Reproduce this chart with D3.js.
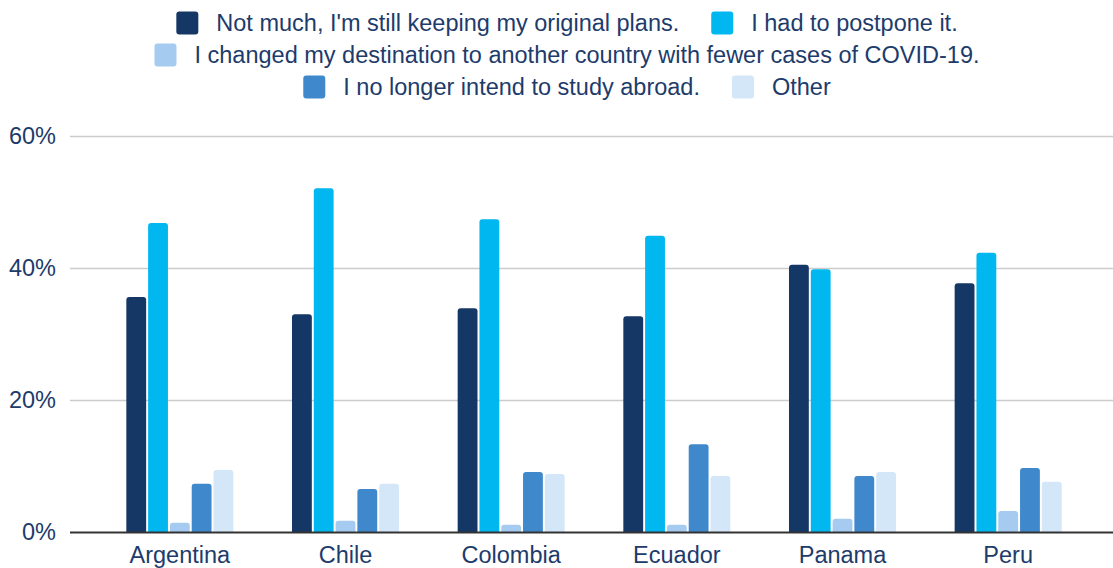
<!DOCTYPE html>
<html><head><meta charset="utf-8">
<script src="https://cdn.jsdelivr.net/npm/d3@7"></script>
<style>
html,body{margin:0;padding:0;background:#fff;}
svg{display:block;font-family:"Liberation Sans",Arial,sans-serif;}
</style></head>
<body>
<svg id="c" width="1113" height="568"></svg>
<script>
const countries = ["Argentina","Chile","Colombia","Ecuador","Panama","Peru"];
const seriesNames = [
  "Not much, I'm still keeping my original plans.",
  "I had to postpone it.",
  "I changed my destination to another country with fewer cases of COVID-19.",
  "I no longer intend to study abroad.",
  "Other"
];
const keepPlans   = [35.6, 33.0, 33.9, 32.7, 40.5, 37.7];
const postponed   = [46.8, 52.1, 47.4, 44.9, 39.8, 42.3];
const changedDest = [1.4, 1.7, 1.1, 1.1, 2.0, 3.2];
const noLonger    = [7.3, 6.5, 9.1, 13.3, 8.5, 9.7];
const other       = [9.4, 7.3, 8.8, 8.5, 9.1, 7.6];
const yTicks = [0, 20, 40, 60];
const colors = ["#153765", "#00b7f0", "#a6cbf0", "#3f88cb", "#d4e7f8"];
const textColor = "#1d3b6b";

const seriesValues = [keepPlans, postponed, changedDest, noLonger, other];

const svg = d3.select("#c");
const plotLeft = 70, plotRight = 1113, y0 = 532, yTop = 136;

const y = d3.scaleLinear().domain([0, 60]).range([y0, yTop]);
const x = d3.scaleBand().domain(countries).range([97, 1091]).paddingInner(0.354).paddingOuter(0.177);
const xi = d3.scaleBand().domain(d3.range(seriesNames.length)).range([0, x.bandwidth()]).paddingInner(0.09);

// gridlines
const yAxis = d3.axisLeft(y).tickValues(yTicks).tickFormat(d => d + "%").tickSize(-(plotRight - plotLeft)).tickPadding(14);
const gy = svg.append("g").attr("transform", `translate(${plotLeft},0)`).call(yAxis);
gy.select(".domain").remove();
gy.selectAll(".tick line").attr("stroke", "#cccccc").attr("stroke-width", 1.3);
gy.selectAll(".tick text").attr("fill", textColor).attr("font-size", 23.5).attr("font-family", "Liberation Sans, Arial, sans-serif");
gy.selectAll(".tick").filter(d => d === 0).select("line").attr("stroke", "none");

// bars
function topRounded(x0, yv, w, h, r) {
  r = Math.min(r, h, w / 2);
  return `M${x0},${yv + h}V${yv + r}Q${x0},${yv} ${x0 + r},${yv}H${x0 + w - r}Q${x0 + w},${yv} ${x0 + w},${yv + r}V${yv + h}Z`;
}
const data = [];
countries.forEach((c, ci) => seriesValues.forEach((arr, si) => data.push({c, si, v: arr[ci]})));
svg.append("g").selectAll("path").data(data).join("path")
  .attr("d", d => {
    const bx = x(d.c) + xi(d.si), by = y(d.v);
    return topRounded(bx, by, xi.bandwidth(), y0 - by, 3);
  })
  .attr("fill", d => colors[d.si]);

// baseline
svg.append("line").attr("x1", plotLeft).attr("x2", plotRight).attr("y1", y0 + 0.5).attr("y2", y0 + 0.5)
  .attr("stroke", "#333").attr("stroke-width", 2);

// x axis labels
const xAxis = d3.axisBottom(x).tickSize(0).tickPadding(13);
const gx = svg.append("g").attr("transform", `translate(0,${y0 + 1})`).call(xAxis);
gx.select(".domain").remove();
gx.selectAll(".tick text").attr("fill", textColor).attr("font-size", 23.5).attr("font-family", "Liberation Sans, Arial, sans-serif");

// legend
const legend = svg.append("g");
const fs = 23.5, sw = 22, sh = 23, gapText = 18, gapItem = 32, maxW = 950;
const rowY = [23, 55, 87];
const items = seriesNames.map((name, i) => {
  const g = legend.append("g");
  g.append("rect").attr("width", sw).attr("height", sh).attr("rx", 3).attr("y", -sh / 2).attr("fill", colors[i]);
  const t = g.append("text").attr("x", sw + gapText).attr("dy", "0.35em").attr("font-size", fs).attr("fill", textColor).text(name);
  return {g, w: sw + gapText + t.node().getComputedTextLength()};
});
const rows = [[]];
let cur = 0;
items.forEach(it => {
  const row = rows[rows.length - 1];
  const add = (row.length ? gapItem : 0) + it.w;
  if (row.length && cur + add > maxW) { rows.push([it]); cur = it.w; }
  else { row.push(it); cur += add; }
});
rows.forEach((row, ri) => {
  const tw = d3.sum(row, d => d.w) + gapItem * (row.length - 1);
  let xx = 567 - tw / 2;
  row.forEach(it => { it.g.attr("transform", `translate(${xx},${rowY[ri]})`); xx += it.w + gapItem; });
});
</script>
</body></html>
